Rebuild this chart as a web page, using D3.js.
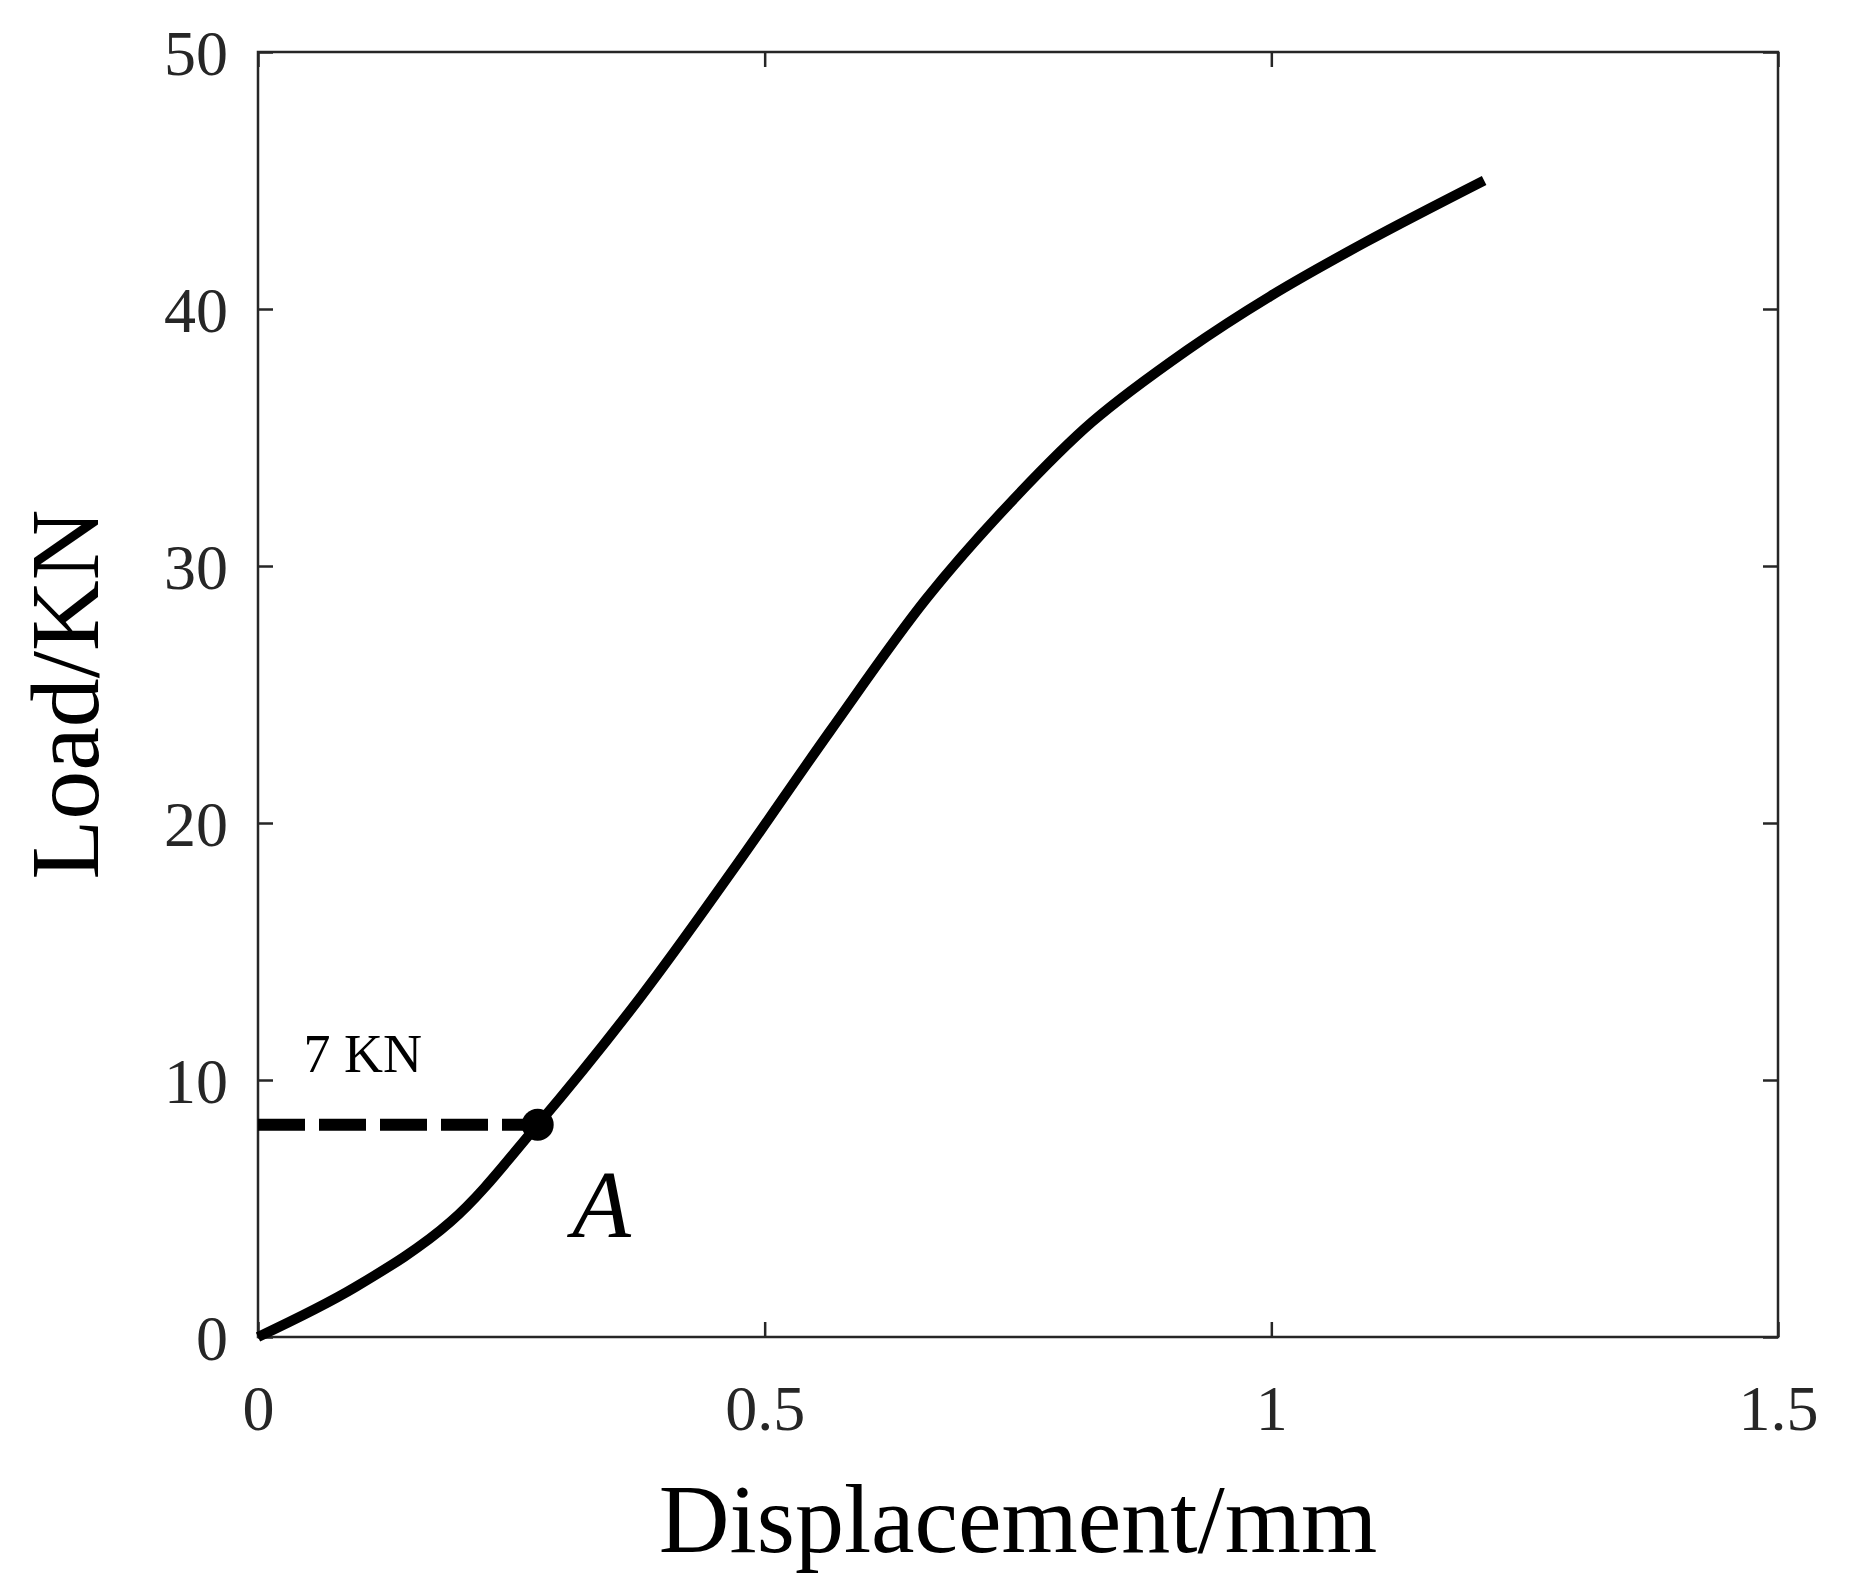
<!DOCTYPE html>
<html><head><meta charset="utf-8">
<script src="https://cdn.jsdelivr.net/npm/d3@7"></script>
<style>body{margin:0;background:#fff}</style></head>
<body><svg id="c" width="1861" height="1588"></svg>
<script>
const displacement = [0, 0.096, 0.19, 0.276, 0.378, 0.471, 0.565, 0.659, 0.741, 0.823, 0.917, 0.999, 1.093, 1.21];
const load =         [0, 1.94, 4.48, 8.26, 13.25, 18.3, 23.6, 28.7, 32.4, 35.6, 38.4, 40.5, 42.6, 45.0];
const xTicks = [0, 0.5, 1, 1.5];
const yTicks = [0, 10, 20, 30, 40, 50];
const pointA = {x: 0.276, y: 8.26};
const pointLabel = "7 KN";

const L=258,R=1778,T=52,B=1337;
const svg=d3.select("#c");
const x=d3.scaleLinear().domain([0,1.5]).range([L,R]);
const y=d3.scaleLinear().domain([0,50]).range([B,T]);
const font="Liberation Serif, Times New Roman, serif";
const ax="#262626";
const tk=15;
function styleAxis(g){g.select(".domain").remove();g.selectAll("line").attr("stroke",ax).attr("stroke-width",2.5);}
svg.append("g").attr("transform",`translate(0,${B})`).call(d3.axisBottom(x).tickValues(xTicks).tickSize(-tk).tickFormat(d=>d3.format("~g")(d)).tickPadding(48))
  .call(styleAxis).selectAll("text").attr("font-family",font).attr("font-size",64).attr("fill",ax);
svg.append("g").attr("transform",`translate(0,${T})`).call(d3.axisTop(x).tickValues(xTicks).tickSize(-tk).tickFormat("")).call(styleAxis);
svg.append("g").attr("transform",`translate(${L},0)`).call(d3.axisLeft(y).tickValues(yTicks).tickSize(-tk).tickPadding(30))
  .call(styleAxis).selectAll("text").attr("font-family",font).attr("font-size",64).attr("fill",ax).attr("dy","0.35em");
svg.append("g").attr("transform",`translate(${R},0)`).call(d3.axisRight(y).tickValues(yTicks).tickSize(-tk).tickFormat("")).call(styleAxis);
svg.append("rect").attr("x",L).attr("y",T).attr("width",R-L).attr("height",B-T).attr("fill","none").attr("stroke",ax).attr("stroke-width",2.5);

const pts=displacement.map((d,i)=>[d,load[i]]);
svg.append("path").datum(pts).attr("d",d3.line().x(d=>x(d[0])).y(d=>y(d[1])).curve(d3.curveCatmullRom.alpha(0.5)))
  .attr("fill","none").attr("stroke","#000").attr("stroke-width",10);
svg.append("line").attr("x1",x(0)).attr("x2",x(pointA.x)).attr("y1",y(pointA.y)).attr("y2",y(pointA.y))
  .attr("stroke","#000").attr("stroke-width",12).attr("stroke-dasharray","47,14");
svg.append("circle").attr("cx",x(pointA.x)).attr("cy",y(pointA.y)).attr("r",16).attr("fill","#000");
svg.append("text").attr("x",x(0.045)).attr("y",y(10.3)).attr("font-family",font).attr("font-size",54).text(pointLabel);
svg.append("text").attr("x",x(0.31)).attr("y",y(3.9)).attr("font-family",font).attr("font-style","italic").attr("font-size",96).text("A");
svg.append("text").attr("x",(L+R)/2).attr("y",1552).attr("text-anchor","middle").attr("font-family",font).attr("font-size",98).text("Displacement/mm");
svg.append("text").attr("transform",`translate(98,${(T+B)/2}) rotate(-90)`).attr("text-anchor","middle").attr("font-family",font).attr("font-size",98).text("Load/KN");
</script></body></html>
